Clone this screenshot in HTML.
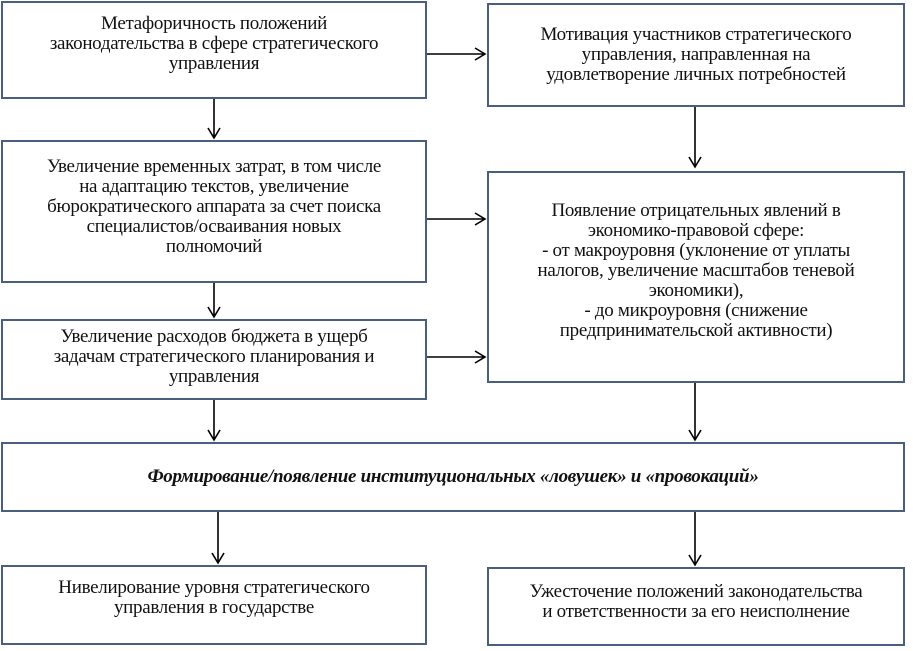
<!DOCTYPE html>
<html><head><meta charset="utf-8"><style>
body{margin:0;width:913px;height:651px;background:#fff;position:relative;overflow:hidden;font-family:"Liberation Serif",serif;color:#111}
.b{position:absolute;box-sizing:border-box;border:2px solid #4a5f7e;display:flex;align-items:center;justify-content:center;text-align:center;font-size:19px;line-height:20px;padding:0 2px;white-space:nowrap;letter-spacing:-0.3px}
svg{position:absolute;left:0;top:0}
</style></head><body>
<div class="b" style="left:1px;top:1px;width:426px;height:98px;padding-bottom:12px">Метафоричность положений<br>законодательства в сфере стратегического<br>управления</div>
<div class="b" style="left:487px;top:3px;width:418px;height:104px">Мотивация участников стратегического<br>управления, направленная на<br>удовлетворение личных потребностей</div>
<div class="b" style="left:1px;top:140px;width:426px;height:143px;padding-bottom:10px">Увеличение временных затрат, в том числе<br>на адаптацию текстов, увеличение<br>бюрократического аппарата за счет поиска<br>специалистов/осваивания новых<br>полномочий</div>
<div class="b" style="left:487px;top:171px;width:418px;height:212px;padding-bottom:12px">Появление отрицательных явлений в<br>экономико-правовой сфере:<br>- от макроуровня (уклонение от уплаты<br>налогов, увеличение масштабов теневой<br>экономики),<br>- до микроуровня (снижение<br>предпринимательской активности)</div>
<div class="b" style="left:1px;top:319px;width:426px;height:81px;padding-bottom:6px">Увеличение расходов бюджета в ущерб<br>задачам стратегического планирования и<br>управления</div>
<div class="b" style="left:1px;top:442px;width:904px;height:70px;font-style:italic;font-weight:bold">Формирование/появление институциональных «ловушек» и «провокаций»</div>
<div class="b" style="left:1px;top:565px;width:426px;height:80px;padding-bottom:14px">Нивелирование уровня стратегического<br>управления в государстве</div>
<div class="b" style="left:487px;top:567px;width:418px;height:79px;padding-bottom:10px">Ужесточение положений законодательства<br>и ответственности за его неисполнение</div>
<svg width="913" height="651" fill="none" stroke="#000" stroke-width="1.6">
<path d="M214 99V138M208 128l6 10 6-10"/>
<path d="M427 54H485M475 48l10 6-10 6"/>
<path d="M695 107V167M689 157l6 10 6-10"/>
<path d="M427 219H485M475 213l10 6-10 6"/>
<path d="M214 283V317M208 307l6 10 6-10"/>
<path d="M427 357H485M475 351l10 6-10 6"/>
<path d="M214 400V440M208 430l6 10 6-10"/>
<path d="M695 383V440M689 430l6 10 6-10"/>
<path d="M218 512V563M212 553l6 10 6-10"/>
<path d="M695 512V565M689 555l6 10 6-10"/>
</svg>
</body></html>
